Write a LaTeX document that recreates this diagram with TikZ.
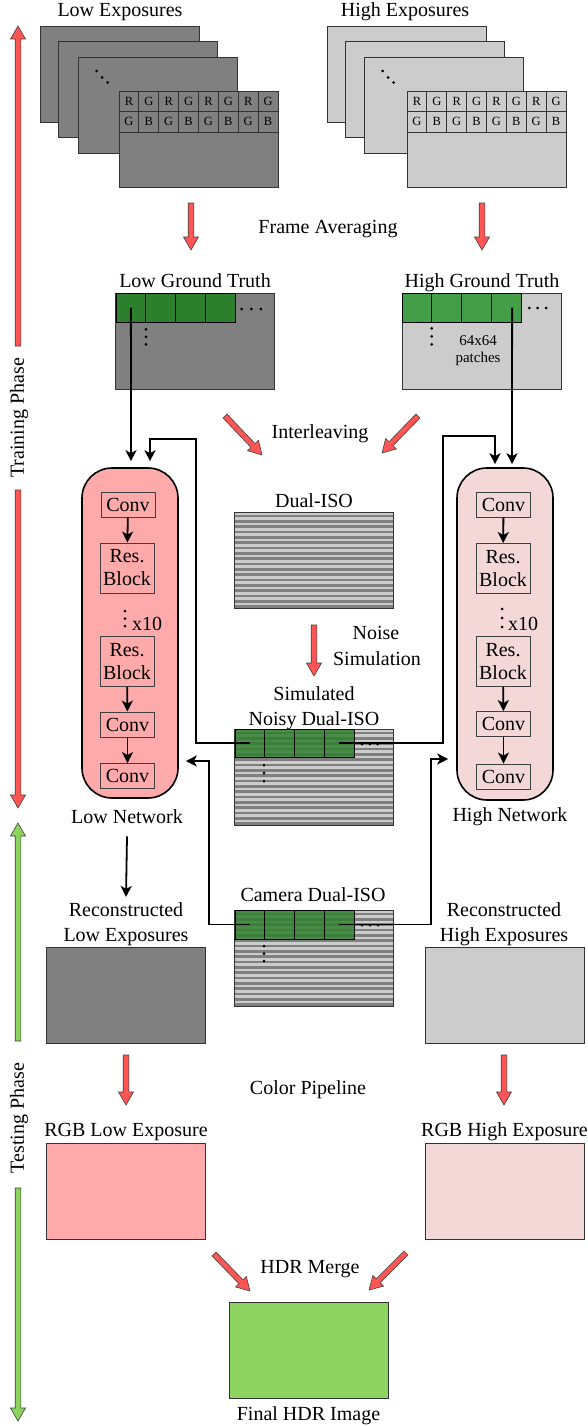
\documentclass[tikz,border=0pt]{standalone}
\usepackage{fontspec}
\setmainfont{Liberation Serif}
\usetikzlibrary{arrows.meta,calc}

\definecolor{lowgray}{HTML}{808080}
\definecolor{highgray}{HTML}{CCCCCC}
\definecolor{arrowred}{HTML}{FF5555}
\definecolor{lownet}{HTML}{FFAAAA}
\definecolor{highnet}{HTML}{F4D7D7}
\definecolor{gtlow}{HTML}{2C7F2C}
\definecolor{gthigh}{HTML}{449E48}
\definecolor{hdrgreen}{HTML}{8DD35F}

\tikzset{
  lbl/.style={font=\fontsize{20}{24}\selectfont, inner sep=0pt, anchor=base},
  boxline/.style={draw=black!80, line width=0.9pt},
  img/.style={boxline, minimum width=159pt, minimum height=96pt, inner sep=0pt, outer sep=0pt},
  lowimg/.style={img, fill=lowgray},
  highimg/.style={img, fill=highgray},
  bayer/.style={boxline, line width=0.8pt, minimum width=19.875pt, minimum height=20.5pt,
    inner sep=0pt, font=\fontsize{12.5}{14}\selectfont},
  patch/.style={draw=black, line width=0.9pt, minimum width=29.75pt, minimum height=#1,
    inner sep=0pt, outer sep=0pt},
  patch/.default=29pt,
  net/.style={draw=black, line width=1.6pt, rounded corners=30pt, minimum width=96pt,
    inner sep=0pt},
  layer/.style={draw=black!75, line width=0.9pt, minimum width=54pt, inner sep=0pt,
    align=center, font=\fontsize{20}{23}\selectfont},
  link/.style={line width=1.8pt, -{Stealth[length=11pt,width=11pt,inset=3pt]}},
  fatarrow/.style={draw=black!75, line width=0.6pt, fill=#1, line join=miter,
    to path={let \p1=(\tikztostart), \p2=(\tikztotarget),
      \n1={atan2(\y2-\y1,\x2-\x1)} in
      ($(\p1)+(\n1+90:2.8pt)$) -- ($(\p2)+(\n1+180:13pt)+(\n1+90:2.8pt)$)
      -- ($(\p2)+(\n1+180:13pt)+(\n1+90:7.5pt)$) -- (\p2)
      -- ($(\p2)+(\n1+180:13pt)+(\n1-90:7.5pt)$)
      -- ($(\p2)+(\n1+180:13pt)+(\n1-90:2.8pt)$)
      -- ($(\p1)+(\n1-90:2.8pt)$) -- cycle}},
}

% horizontal interleaved rows of a dual-ISO frame, then its border
\newcommand\stripebox[1]{%
  \foreach \k in {0,...,17}
    \fill[highgray] ($(#1.north west)+(0,\k*5.3333)$) rectangle +(158,2.6667);
  \draw[boxline] (#1.north west) rectangle (#1.south east);}

% three dots in a row starting at a point, stepping by a vector
\newcommand\dotrow[3]{%
  \foreach \k in {0,1,2}
    \fill ($(#1)+\k*(#2,#3)$) circle (1.5);}

\begin{document}
\begin{tikzpicture}[x=1pt,y=-1pt]
\useasboundingbox (0,0) rectangle (587,1426);

% ---------------- phase arrows ----------------
\coordinate (trA) at (18,346); \coordinate (trTip) at (18,26);
\coordinate (trB) at (18,490); \coordinate (trEnd) at (18,808);
\coordinate (teA) at (18,1041); \coordinate (teTip) at (18,823);
\coordinate (teB) at (18,1188); \coordinate (teEnd) at (18,1421);
\draw[fatarrow=arrowred] (trA) to (trTip);
\draw[fatarrow=arrowred] (trB) to (trEnd);
\draw[fatarrow=hdrgreen] (teA) to (teTip);
\draw[fatarrow=hdrgreen] (teB) to (teEnd);
\node[lbl, anchor=center, rotate=90] (train) at (19,418) {Training Phase};
\node[lbl, anchor=center, rotate=90] (test) at (19,1118) {Testing Phase};

% ---------------- exposure stacks ----------------
\node[lbl] (lowexp) at (120,17) {Low Exposures};
\node[lowimg] (lo1) at (119.5,74) {};
\node[lowimg] (lo2) at (137.5,89) {};
\node[lowimg] (lo3) at (157.5,105) {};
\node[lowimg] (lo4) at (198.5,139) {};
\foreach \c [count=\i from 0] in {R,G,R,G,R,G,R,G}
  \node[bayer] (loA\i) at (128.94+\i*19.875,101.25) {\c};
\foreach \c [count=\i from 0] in {G,B,G,B,G,B,G,B}
  \node[bayer] (loB\i) at (128.94+\i*19.875,121.75) {\c};
\fill ($(lo3.north west)+(18.5,14)$) circle (1.5)
      ($(lo3.north west)+(24,20.5)$) circle (1.5)
      ($(lo3.north west)+(29.5,25.5)$) circle (1.5);

\node[lbl] (highexp) at (405,17) {High Exposures};
\node[highimg] (hi1) at (406.5,74) {};
\node[highimg] (hi2) at (424.5,89) {};
\node[highimg] (hi3) at (443.5,105) {};
\node[highimg] (hi4) at (486.5,139) {};
\foreach \c [count=\i from 0] in {R,G,R,G,R,G,R,G}
  \node[bayer] (hiA\i) at (416.94+\i*19.875,101.25) {\c};
\foreach \c [count=\i from 0] in {G,B,G,B,G,B,G,B}
  \node[bayer] (hiB\i) at (416.94+\i*19.875,121.75) {\c};
\fill ($(hi3.north west)+(18.5,14)$) circle (1.5)
      ($(hi3.north west)+(24,20.5)$) circle (1.5)
      ($(hi3.north west)+(29.5,25.5)$) circle (1.5);

% ---------------- frame averaging ----------------
\coordinate (faL1) at (191,203); \coordinate (faL2) at (191,250);
\coordinate (faR1) at (482,203); \coordinate (faR2) at (482,250);
\draw[fatarrow=arrowred] (faL1) to (faL2);
\draw[fatarrow=arrowred] (faR1) to (faR2);
\node[lbl] (favg) at (328,233) {Frame Averaging};

% ---------------- ground truth ----------------
\node[lbl] (lgtlbl) at (195,287) {Low Ground Truth};
\node[lowimg] (lgt) at (195,341) {};
\foreach \i in {1,...,4}
  \node[patch, fill=gtlow] (lgt\i) at (116+\i*29.75-14.875,307.5) {};
\dotrow{241.7,309}{9.6}{0}
\dotrow{146,329.3}{0}{7.5}

\node[lbl] (hgtlbl) at (482,287) {High Ground Truth};
\node[highimg] (hgt) at (482,341) {};
\foreach \i in {1,...,4}
  \node[patch, fill=gthigh] (hgt\i) at (402+\i*29.75-14.875,307.5) {};
\dotrow{529.3,308}{8.4}{0}
\dotrow{431.7,328.3}{0}{8}
\node[lbl, font=\fontsize{15}{17}\selectfont] (psize) at (478,345) {64x64};
\node[lbl, font=\fontsize{15}{17}\selectfont] (pword) at (478,362) {patches};

% ---------------- interleaving ----------------
\coordinate (ilL1) at (225,416); \coordinate (ilL2) at (262,455);
\coordinate (ilR1) at (418,416); \coordinate (ilR2) at (382,453);
\draw[fatarrow=arrowred] (ilL1) to (ilL2);
\draw[fatarrow=arrowred] (ilR1) to (ilR2);
\node[lbl] (inter) at (320,438) {Interleaving};

% ---------------- dual-ISO frames ----------------
\node[lbl] (duallbl) at (314,507) {Dual-ISO};
\node[lowimg] (dual) at (314,560) {};
\stripebox{dual}

\coordinate (nsA) at (314,625); \coordinate (nsB) at (314,676);
\draw[fatarrow=arrowred] (nsA) to (nsB);
\node[lbl] (noise1) at (376,639) {Noise};
\node[lbl] (noise2) at (377,665) {Simulation};

\node[lbl] (simlbl1) at (314,700) {Simulated};
\node[lbl] (simlbl2) at (314,725) {Noisy Dual-ISO};
\node[lowimg] (ns) at (314,777) {};
\stripebox{ns}
\foreach \i in {1,...,4}
  \node[patch=28pt, fill=gtlow, fill opacity=0.82] (ns\i) at (235+\i*29.75-14.875,743) {};
\dotrow{362,744}{7.8}{0}
\dotrow{264,765}{0}{8}

\node[lbl] (camlbl) at (313,901) {Camera Dual-ISO};
\node[lowimg] (cam) at (314,958) {};
\stripebox{cam}
\foreach \i in {1,...,4}
  \node[patch=29pt, fill=gtlow, fill opacity=0.82] (cs\i) at (235+\i*29.75-14.875,924.5) {};
\dotrow{362,925}{8}{0}
\dotrow{264,946}{0}{7.5}

% ---------------- networks ----------------
\node[net, fill=lownet, minimum height=330pt] (lnet) at (130,633) {};
\node[layer, minimum height=25pt] (lc1) at (128,504.5) {Conv};
\node[layer, minimum height=50pt] (lr1) at (127,568) {Res.\\Block};
\node[layer, minimum height=50pt] (lr2) at (127,661.5) {Res.\\Block};
\node[layer, minimum height=25pt] (lc2) at (127.5,724.5) {Conv};
\node[layer, minimum height=25pt] (lc3) at (127.5,776) {Conv};
\dotrow{125,611}{0}{7.5}
\node[lbl, anchor=west] (lrep) at (132,624) {x10};
\draw[link] (lc1) -- (lr1);
\draw[link] (lr2) -- (lc2);
\draw[link] (lc2) -- (lc3);
\node[lbl] (lnetlbl) at (127,823) {Low Network};

\node[net, fill=highnet, minimum height=332pt] (hnet) at (505,634) {};
\node[layer, minimum height=25pt] (hc1) at (503.5,504.5) {Conv};
\node[layer, minimum height=50pt] (hr1) at (503,568.5) {Res.\\Block};
\node[layer, minimum height=50pt] (hr2) at (503,661.5) {Res.\\Block};
\node[layer, minimum height=25pt] (hc2) at (503.5,724) {Conv};
\node[layer, minimum height=25pt] (hc3) at (503.5,776.5) {Conv};
\dotrow{502,609}{0}{9}
\node[lbl, anchor=west] (hrep) at (508,624) {x10};
\draw[link] (hc1) -- (hr1);
\draw[link] (hr2) -- (hc2);
\draw[link] (hc2) -- (hc3);
\node[lbl] (hnetlbl) at (510,821) {High Network};

% ---------------- training connections ----------------
\coordinate (lloop) at (196,439);
\coordinate (rloop) at (443,436);
\coordinate (lcamc) at (209,761);
\coordinate (rcamc) at (431,759);
\draw[link] (lgt1.center) -- ([shift={(1,-6)}]lnet.north);
\draw[link] ([xshift=6pt]hgt4.center) -- ([shift={(7,-3)}]hnet.north);
\draw[link] (ns1.center) -| (lloop) -| ([shift={(20,-6)}]lnet.north);
\draw[link] (ns4.center) -| (rloop) -| ([shift={(-10,-3)}]hnet.north);
\draw[link] (cs1.center) -| (lcamc) -- ([xshift=7pt]lnet.east |- lcamc);
\draw[link] (cs4.center) -| (rcamc) -- ([xshift=-8pt]hnet.west |- rcamc);

% ---------------- reconstruction ----------------
\node[lbl] (rlolbl1) at (126,916) {Reconstructed};
\node[lbl] (rlolbl2) at (126,941) {Low Exposures};
\node[lowimg] (rlo) at (125.5,995) {};
\draw[link] ([yshift=-13pt]lnetlbl.south) -- ([yshift=5pt]rlolbl1.north);

\node[lbl] (rhilbl1) at (504,916) {Reconstructed};
\node[lbl] (rhilbl2) at (504,941) {High Exposures};
\node[highimg] (rhi) at (504.5,995) {};

% ---------------- color pipeline ----------------
\coordinate (cpL1) at (126,1055); \coordinate (cpL2) at (126,1105);
\coordinate (cpR1) at (504,1055); \coordinate (cpR2) at (504,1105);
\draw[fatarrow=arrowred] (cpL1) to (cpL2);
\draw[fatarrow=arrowred] (cpR1) to (cpR2);
\node[lbl] (cpipe) at (308,1094) {Color Pipeline};

\node[lbl] (rgblolbl) at (126,1136) {RGB Low Exposure};
\node[img, fill=lownet] (rgblo) at (125.5,1191) {};
\node[lbl] (rgbhilbl) at (504.5,1136) {RGB High Exposure};
\node[img, fill=highnet] (rgbhi) at (504.5,1191) {};

% ---------------- HDR merge ----------------
\coordinate (hmL1) at (214,1254); \coordinate (hmL2) at (250,1291);
\coordinate (hmR1) at (406,1253); \coordinate (hmR2) at (369,1290);
\draw[fatarrow=arrowred] (hmL1) to (hmL2);
\draw[fatarrow=arrowred] (hmR1) to (hmR2);
\node[lbl] (hdrm) at (310,1273) {HDR Merge};
\node[img, fill=hdrgreen] (final) at (308.5,1350.5) {};
\node[lbl] (finallbl) at (308.5,1420) {Final HDR Image};

\end{tikzpicture}
\end{document}
